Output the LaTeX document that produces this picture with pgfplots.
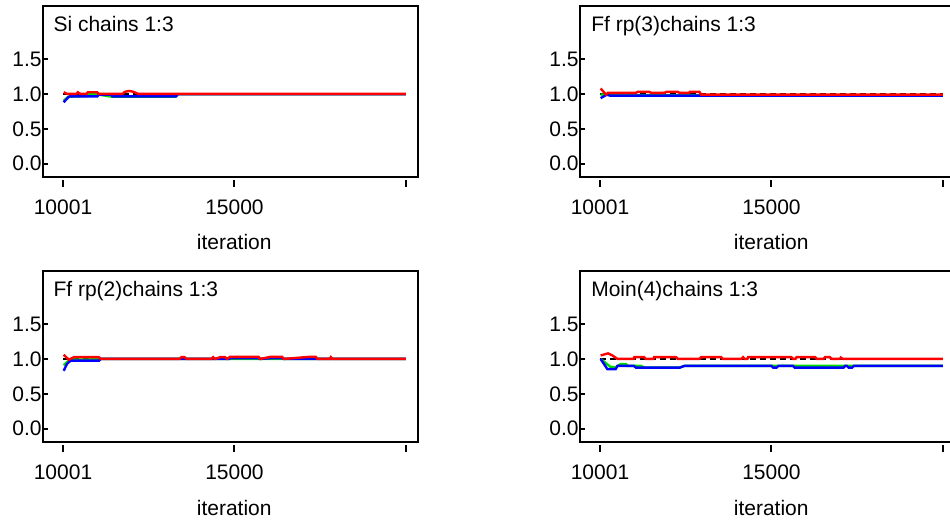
\documentclass[border=0pt]{standalone}
\usepackage{fontspec}
\setmainfont{Liberation Sans}
\usepackage{pgfplots}
\pgfplotsset{compat=1.18}

\definecolor{bgrred}{RGB}{255,0,0}
\definecolor{bgrgreen}{RGB}{0,220,0}
\definecolor{bgrblue}{RGB}{0,0,255}
\newcommand{\lab}{\fontsize{10.5}{12}\selectfont}

\pgfplotsset{
  bgr/.style={
    scale only axis, width=187.5pt, height=85.5pt, anchor=south west,
    xmin=9418, xmax=20350, ymin=-0.19, ymax=2.26,
    axis line style={line width=1pt},
    xtick={10001,15000,20000}, xticklabels={10001,15000,{}},
    ytick={0,0.5,1,1.5}, yticklabels={0.0,0.5,1.0,1.5},
    tick pos=left, tick align=inside, major tick length=2.5pt,
    xtick style={black, line width=1pt, /pgfplots/major tick length=3.5pt, yshift=-5pt},
    ytick style={black, line width=1pt},
    tick label style={font=\lab},
    yticklabel style={inner xsep=0.5pt},
    xticklabel style={anchor=north, inner ysep=0pt, yshift=-11pt},
    xlabel={iteration},
    xlabel style={font=\lab, at={(axis description cs:0.51,0)}, anchor=base, yshift=-36.5pt},
    scaled x ticks=false,
  },
  ref/.style={black, densely dashed, line width=0.9pt},
  grn/.style={bgrgreen, line width=1.2pt},
  blu/.style={bgrblue, line width=1.2pt},
  rd/.style={bgrred, line width=1.2pt},
}
\tikzset{ttl/.style={font=\lab, anchor=base west, inner sep=0pt}}

\begin{document}
\begin{tikzpicture}
\useasboundingbox (0,0) rectangle (475pt,260.5pt);
\clip (0,0) rectangle (475pt,260.5pt);

% Si
\begin{axis}[bgr, at={(21.5pt,172pt)}]
  \addplot[ref] coordinates {(10001,1.0) (20000,1.0)};
  \addplot[grn] coordinates {(10020,0.90) (10150,0.96) (10700,0.97) (10730,1.0) (11020,1.0) (11050,0.99) (11430,0.96) (13270,0.96) (13300,0.995) (20000,0.995)};
  \addplot[blu] coordinates {(10020,0.88) (10150,0.95) (10200,0.965) (11000,0.965) (11050,0.99) (11400,0.99) (11440,0.965) (13300,0.965) (13350,0.995) (20000,0.995)};
  \addplot[rd] coordinates {(10020,1.024) (10120,1.0) (10393,1.0) (10432,1.024) (10510,1.0) (10687,1.0) (10726,1.024) (11000,1.024) (11040,1.0) (11735,1.0) (11804,1.03) (11931,1.043) (12059,1.03) (12128,1.015) (12196,1.0) (20000,1.0)};
  \node[ttl] at (axis description cs:0.027,0.848) {Si chains 1:3};
\end{axis}

% Ffrp(3)
\begin{axis}[bgr, at={(290pt,172pt)}]
  \addplot[ref] coordinates {(10001,1.0) (20000,1.0)};
  \addplot[grn] coordinates {(10020,0.99) (10200,0.995) (10300,0.98) (20000,0.98)};
  \addplot[blu] coordinates {(10020,0.94) (10200,0.99) (10300,0.975) (20000,0.975)};
  \addplot[rd] coordinates {(10020,1.078) (10180,0.99) (10230,1.015) (11050,1.015) (11100,1.03) (11440,1.03) (11490,1.015) (11880,1.015) (11930,1.03) (12270,1.03) (12320,1.015) (12600,1.015) (12620,1.03) (12900,1.03) (12950,0.99) (20000,0.99)};
  \node[ttl] at (axis description cs:0.029,0.848) {Ff rp(3)chains 1:3};
\end{axis}

% Ffrp(2)
\begin{axis}[bgr, at={(21.5pt,39.5pt)}]
  \addplot[ref] coordinates {(10001,1.0) (20000,1.0)};
  \addplot[grn] coordinates {(10020,0.91) (10220,1.0) (10400,0.99) (10800,0.99) (10850,1.0) (20000,1.0)};
  \addplot[blu] coordinates {(10020,0.83) (10120,0.93) (10220,0.975) (11050,0.975) (11100,1.0) (14850,1.0) (14870,1.01) (15700,1.01) (15750,1.0) (16050,1.01) (16390,1.01) (16440,1.0) (20000,1.0)};
  \addplot[rd] coordinates {(10020,1.06) (10170,0.99) (10320,1.025) (11050,1.025) (11100,1.0) (13400,1.0) (13450,1.025) (13550,1.025) (13600,1.0) (14330,1.0) (14380,1.025) (14430,1.0) (14580,1.025) (14730,1.025) (14780,1.0) (14870,1.03) (15700,1.03) (15750,1.0) (16050,1.03) (16390,1.03) (16440,1.0) (17175,1.03) (17370,1.03) (17420,1.0) (17780,1.0) (17810,1.025) (17850,1.0) (20000,1.0)};
  \node[ttl] at (axis description cs:0.027,0.848) {Ff rp(2)chains 1:3};
\end{axis}

% Moin(4)
\begin{axis}[bgr, at={(290pt,39.5pt)}]
  \addplot[ref] coordinates {(10001,1.0) (20000,1.0)};
  \addplot[grn] coordinates {(10020,1.0) (10300,0.89) (10450,0.88) (10600,0.925) (10760,0.925) (10800,0.9) (11200,0.9) (11300,0.875) (12320,0.875) (12460,0.9) (20000,0.9)};
  \addplot[blu] coordinates {(10020,1.0) (10215,0.855) (10460,0.855) (10510,0.9) (10990,0.9) (11050,0.875) (12320,0.875) (12460,0.9) (15000,0.9) (15050,0.875) (15150,0.875) (15200,0.9) (15630,0.9) (15680,0.875) (17100,0.875) (17150,0.9) (17200,0.9) (17250,0.875) (17350,0.875) (17400,0.9) (20000,0.9)};
  \addplot[rd] coordinates {(10020,1.05) (10235,1.08) (10362,1.05) (10510,1.0) (10980,1.0) (11000,1.025) (11290,1.025) (11340,1.0) (11560,1.0) (11580,1.025) (12220,1.025) (12270,1.0) (12900,1.0) (12950,1.025) (13535,1.025) (13580,1.0) (14120,1.0) (14170,1.025) (14220,1.0) (14300,1.0) (14320,1.025) (15580,1.025) (15630,1.0) (15700,1.0) (15730,1.025) (16270,1.025) (16320,1.0) (16520,1.0) (16560,1.025) (16700,1.025) (16750,1.0) (16990,1.0) (17020,1.02) (17080,1.0) (20000,1.0)};
  \node[ttl] at (axis description cs:0.029,0.848) {Moin(4)chains 1:3};
\end{axis}
\end{tikzpicture}
\end{document}
